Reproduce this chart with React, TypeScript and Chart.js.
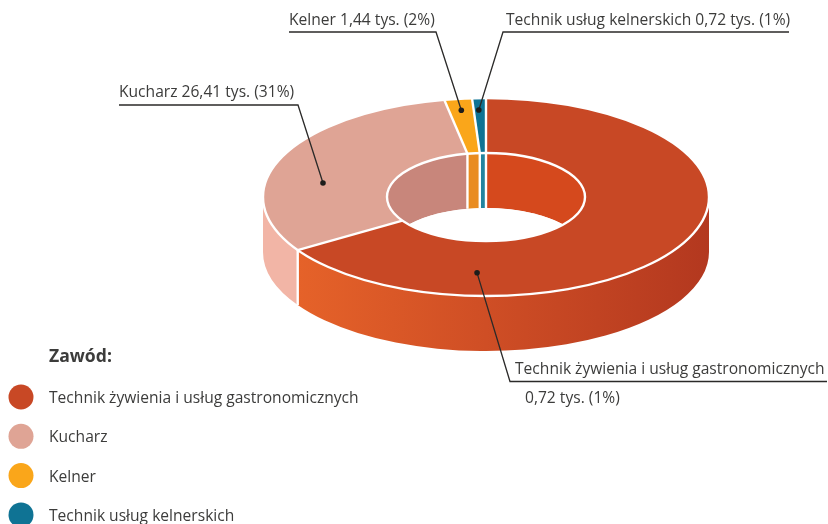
import React, { useEffect, useRef } from "react";
import { Chart, registerables } from "chart.js";

Chart.register(...registerables);

const categories = ["Technik żywienia i usług gastronomicznych", "Kucharz", "Kelner", "Technik usług kelnerskich"];
const shares = [66, 31, 2, 1];
const topColors = ["#C84825", "#DFA495", "#FAA61A", "#0F7394"];
const innerWallColors = ["#D5491D", "#C8867B", "#E98C20", "#22849F"];
const sideColors = ["#CF4E25", "#F2B5A6", "#FAA61A", "#0F7394"];
const legendTitle = "Zawód:";
const TEXT = "#3C3C3B";
const FONT = '"Open Sans", sans-serif';
const FONT_SIZE = 15.6;

// screen projection
const W = 828, H = 524;
const CX = 486, CY = 197, R = 223, SQUASH = 0.444, DEPTH = 55;

const callouts = [
  { slice: 0, angle: 183, radius: 171, elbow: [510, 381.5], end: 827, lines: [["Technik żywienia i usług gastronomicznych", 515, 374], ["0,72 tys. (1%)", 525, 403]] },
  { slice: 1, angle: 280.9, radius: 166, elbow: [298, 105], end: 119, lines: [["Kucharz 26,41 tys. (31%)", 119, 97]] },
  { slice: 2, angle: 352.8, radius: 197, elbow: [436, 32], end: 289, lines: [["Kelner 1,44 tys. (2%)", 289, 25]] },
  { slice: 3, angle: 357.9, radius: 196, elbow: [503, 32], end: 789, lines: [["Technik usług kelnerskich 0,72 tys. (1%)", 506, 25]] },
];

const px = (cx: number, r: number, a: number) => cx + r * Math.cos(a);
const py = (r: number, a: number, dz = 0) => CY + r * SQUASH * Math.sin(a) + dz;

function band(ctx: CanvasRenderingContext2D, cx: number, r: number, a: number, b: number) {
  ctx.beginPath();
  ctx.ellipse(cx, CY, r, r * SQUASH, 0, a, b);
  ctx.ellipse(cx, CY + DEPTH, r, r * SQUASH, 0, b, a, true);
  ctx.closePath();
}

const donut3d = {
  id: "donut3d",
  beforeDatasetsDraw(chart: any) {
    const { ctx } = chart;
    const arcs = chart.getDatasetMeta(0).data;
    const first = arcs[0];
    const sx = first.x, sy = first.y, ro = first.outerRadius, ri = first.innerRadius;

    // outer wall (front half)
    ctx.save();
    const grad = ctx.createLinearGradient(CX - ro, 0, CX + ro, 0);
    grad.addColorStop(0, "#EE6A2C");
    grad.addColorStop(0.08, "#E56229");
    grad.addColorStop(0.5, "#CF4E25");
    grad.addColorStop(1, "#B3381F");
    arcs.forEach((arc: any, i: number) => {
      const a = Math.max(arc.startAngle, 0), b = Math.min(arc.endAngle, Math.PI);
      if (b <= a) return;
      band(ctx, sx, ro, a, b);
      ctx.fillStyle = i === 0 ? grad : sideColors[i];
      ctx.fill();
    });
    ctx.restore();

    // inner wall seen through the hole
    ctx.save();
    ctx.beginPath();
    ctx.ellipse(sx, CY, ri, ri * SQUASH, 0, 0, Math.PI * 2);
    ctx.clip();
    arcs.forEach((arc: any, i: number) => {
      band(ctx, sx, ri, arc.startAngle, arc.endAngle);
      ctx.fillStyle = innerWallColors[i];
      ctx.fill();
    });
    ctx.strokeStyle = "#fff";
    ctx.lineWidth = 2.4;
    arcs.forEach((arc: any) => {
      ctx.beginPath();
      ctx.moveTo(px(sx, ri, arc.startAngle), py(ri, arc.startAngle));
      ctx.lineTo(px(sx, ri, arc.startAngle), py(ri, arc.startAngle, DEPTH));
      ctx.stroke();
    });
    ctx.beginPath();
    ctx.ellipse(sx, CY + DEPTH, ri, ri * SQUASH, 0, 0, Math.PI * 2);
    ctx.fillStyle = "#fff";
    ctx.fill();
    ctx.restore();

    // squash the library's own arcs onto the top face
    ctx.save();
    ctx.translate(0, CY);
    ctx.scale(1, SQUASH);
    ctx.translate(0, -sy);
  },
  afterDatasetsDraw(chart: any) {
    const { ctx } = chart;
    ctx.restore();
    const arcs = chart.getDatasetMeta(0).data;
    const first = arcs[0];
    const sx = first.x, ro = first.outerRadius, ri = first.innerRadius;

    ctx.save();
    ctx.strokeStyle = "#fff";
    ctx.lineWidth = 2.4;
    ctx.beginPath();
    ctx.ellipse(sx, CY, ro, ro * SQUASH, 0, 0, Math.PI * 2);
    ctx.stroke();
    ctx.beginPath();
    ctx.ellipse(sx, CY, ri, ri * SQUASH, 0, 0, Math.PI * 2);
    ctx.stroke();
    arcs.forEach((arc: any) => {
      const a = arc.startAngle;
      ctx.beginPath();
      ctx.moveTo(px(sx, ri, a), py(ri, a));
      ctx.lineTo(px(sx, ro, a), py(ro, a));
      ctx.stroke();
      const n = ((a % (2 * Math.PI)) + 2 * Math.PI) % (2 * Math.PI);
      if (n > 0 && n < Math.PI) {
        ctx.beginPath();
        ctx.moveTo(px(sx, ro, a), py(ro, a));
        ctx.lineTo(px(sx, ro, a), py(ro, a, DEPTH));
        ctx.stroke();
      }
    });
    ctx.restore();
  },
  afterDraw(chart: any) {
    const { ctx } = chart;
    const first = chart.getDatasetMeta(0).data[0];
    const sx = first.x;
    ctx.save();
    ctx.textBaseline = "alphabetic";
    ctx.textAlign = "left";

    callouts.forEach((c) => {
      const a = ((c.angle - 90) * Math.PI) / 180;
      const dx = px(sx, c.radius, a), dy = py(c.radius, a);
      ctx.strokeStyle = "#2B2A29";
      ctx.lineWidth = 1.3;
      ctx.beginPath();
      ctx.moveTo(dx, dy);
      ctx.lineTo(c.elbow[0], c.elbow[1]);
      ctx.lineTo(c.end, c.elbow[1]);
      ctx.stroke();
      ctx.fillStyle = "#1D1D1B";
      ctx.beginPath();
      ctx.arc(dx, dy, 2.8, 0, Math.PI * 2);
      ctx.fill();
      ctx.fillStyle = TEXT;
      ctx.font = `${FONT_SIZE}px ${FONT}`;
      c.lines.forEach((l: any) => ctx.fillText(l[0], l[1], l[2]));
    });

    ctx.fillStyle = TEXT;
    ctx.font = `bold 17.6px ${FONT}`;
    ctx.fillText(legendTitle, 49, 362);
    categories.forEach((name, i) => {
      const y = 397 + i * 39.3;
      ctx.fillStyle = topColors[i];
      ctx.beginPath();
      ctx.arc(21, y, 12.5, 0, Math.PI * 2);
      ctx.fill();
      ctx.fillStyle = TEXT;
      ctx.font = `${FONT_SIZE}px ${FONT}`;
      ctx.fillText(name, 49, y + 6);
    });
    ctx.restore();
  },
};

export default function App() {
  const ref = useRef<HTMLCanvasElement>(null);
  useEffect(() => {
    const chart = new Chart(ref.current!, {
      type: "doughnut",
      data: {
        labels: categories,
        datasets: [{ data: shares, backgroundColor: topColors, borderWidth: 0, clip: false } as any],
      },
      options: {
        animation: false,
        responsive: false,
        cutout: "44.4%",
        layout: { padding: { left: CX - R, right: W - CX - R, top: (H - 2 * R) / 2, bottom: (H - 2 * R) / 2 } },
        plugins: { legend: { display: false }, tooltip: { enabled: false } },
      },
      plugins: [donut3d],
    } as any);
    return () => chart.destroy();
  }, []);
  return (
    <div style={{ position: "fixed", left: 0, top: 0, width: W, height: H, background: "#fff" }}>
      <canvas ref={ref} width={W} height={H} style={{ display: "block" }} />
    </div>
  );
}
